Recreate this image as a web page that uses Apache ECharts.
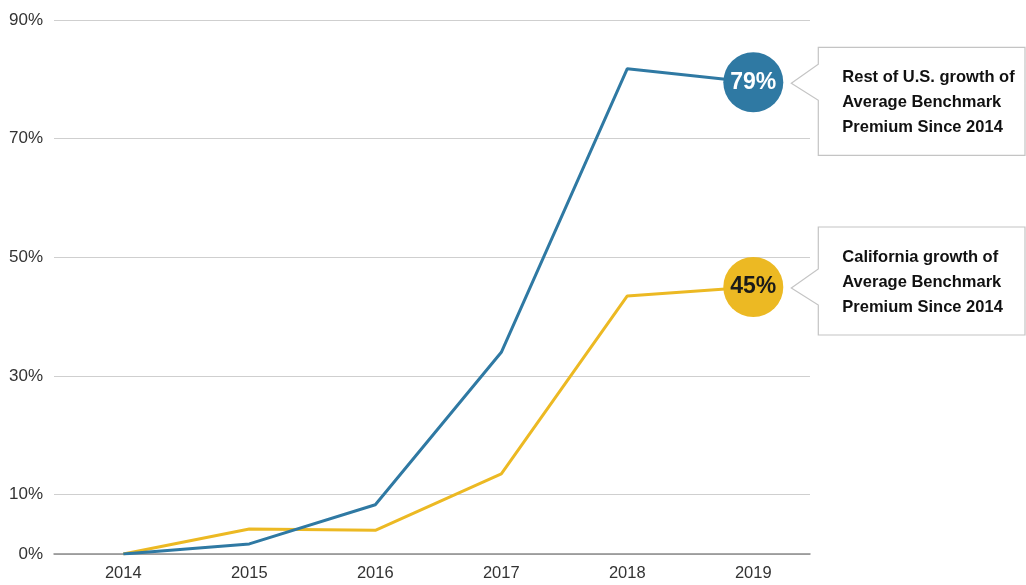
<!DOCTYPE html>
<html>
<head>
<meta charset="utf-8">
<script src="https://cdn.jsdelivr.net/npm/echarts@6/dist/echarts.min.js"></script>
<style>
  html, body { margin: 0; padding: 0; background: #fff; }
  #chart { width: 1026px; height: 585px; }
</style>
</head>
<body>
<div id="chart"></div>
<script>
  const years = [2014, 2015, 2016, 2017, 2018, 2019];
  const restOfUS = [0, 1.7, 8.3, 34, 81.8, 79.5];
  const california = [0, 4.2, 4.0, 13.5, 43.5, 45];
  const yTicks = [0, 10, 30, 50, 70, 90];
  const callouts = [
    {label: '79%', value: 79.5, text: 'Rest of U.S. growth of\nAverage Benchmark\nPremium Since 2014'},
    {label: '45%', value: 45, text: 'California growth of\nAverage Benchmark\nPremium Since 2014'}
  ];

  const FONT = '"Liberation Sans", Arial, Helvetica, sans-serif';
  const BLUE = '#2f79a3';
  const YELLOW = '#ecb923';

  const chart = echarts.init(document.getElementById('chart'));

  function pairs(values) {
    return years.map((y, i) => [y, values[i]]);
  }

  function endMarker(value, label, color, textColor) {
    return {
      symbol: 'circle',
      symbolSize: 60,
      silent: true,
      itemStyle: {color: color},
      label: {
        show: true,
        position: 'inside',
        formatter: label,
        color: textColor,
        fontFamily: FONT,
        fontWeight: 'bold',
        fontSize: 23
      },
      data: [{coord: [years[years.length - 1], value]}]
    };
  }

  const option = {
    animation: false,
    grid: {left: 54, right: 216, top: 20, bottom: 31},
    xAxis: {
      type: 'value',
      min: 2013.45,
      max: 2019.45,
      axisLine: {show: true, onZero: true, lineStyle: {color: '#8c8c8c', width: 1.5}},
      axisTick: {show: false},
      splitLine: {show: false},
      axisLabel: {
        customValues: years,
        formatter: v => String(v),
        color: '#333',
        fontFamily: FONT,
        fontSize: 16.5,
        margin: 11
      }
    },
    yAxis: {
      type: 'value',
      min: 0,
      max: 90,
      axisLine: {show: false},
      axisTick: {show: false, customValues: yTicks},
      splitLine: {show: true, lineStyle: {color: '#cfcfcf', width: 1}},
      axisLabel: {
        customValues: yTicks,
        formatter: '{value}%',
        color: '#333',
        fontFamily: FONT,
        fontSize: 17,
        margin: 11
      }
    },
    series: [
      {
        name: 'Rest of U.S.',
        type: 'line',
        data: pairs(restOfUS),
        symbol: 'none',
        lineStyle: {color: BLUE, width: 3},
        z: 3,
        markPoint: endMarker(callouts[0].value, callouts[0].label, BLUE, '#fff')
      },
      {
        name: 'California',
        type: 'line',
        data: pairs(california),
        symbol: 'none',
        lineStyle: {color: YELLOW, width: 3},
        z: 2,
        markPoint: endMarker(callouts[1].value, callouts[1].label, YELLOW, '#1a1a1a')
      }
    ]
  };

  chart.setOption(option);

  // callout boxes anchored on the end circles
  const lastYear = years[years.length - 1];
  const boxOffsets = [{top: -35, height: 108}, {top: -60, height: 108}];
  const elements = [];
  callouts.forEach((c, i) => {
    const p = chart.convertToPixel({gridIndex: 0}, [lastYear, c.value]);
    const left = p[0] + 65;
    const right = 1025;
    const top = p[1] + boxOffsets[i].top;
    const bottom = top + boxOffsets[i].height;
    const tipX = p[0] + 38;
    elements.push({
      type: 'polygon',
      shape: {
        points: [
          [tipX, p[1] + 1], [left, p[1] - 18], [left, top], [right, top],
          [right, bottom], [left, bottom], [left, p[1] + 18]
        ]
      },
      style: {fill: '#fff', stroke: '#c4c4c4', lineWidth: 1.2},
      z: 10
    });
    elements.push({
      type: 'text',
      x: left + 24,
      y: (top + bottom) / 2 + 1,
      style: {
        text: c.text,
        fill: '#111',
        font: 'bold 16.5px ' + FONT,
        lineHeight: 25,
        verticalAlign: 'middle'
      },
      z: 11
    });
  });
  chart.setOption({graphic: elements});
</script>
</body>
</html>
